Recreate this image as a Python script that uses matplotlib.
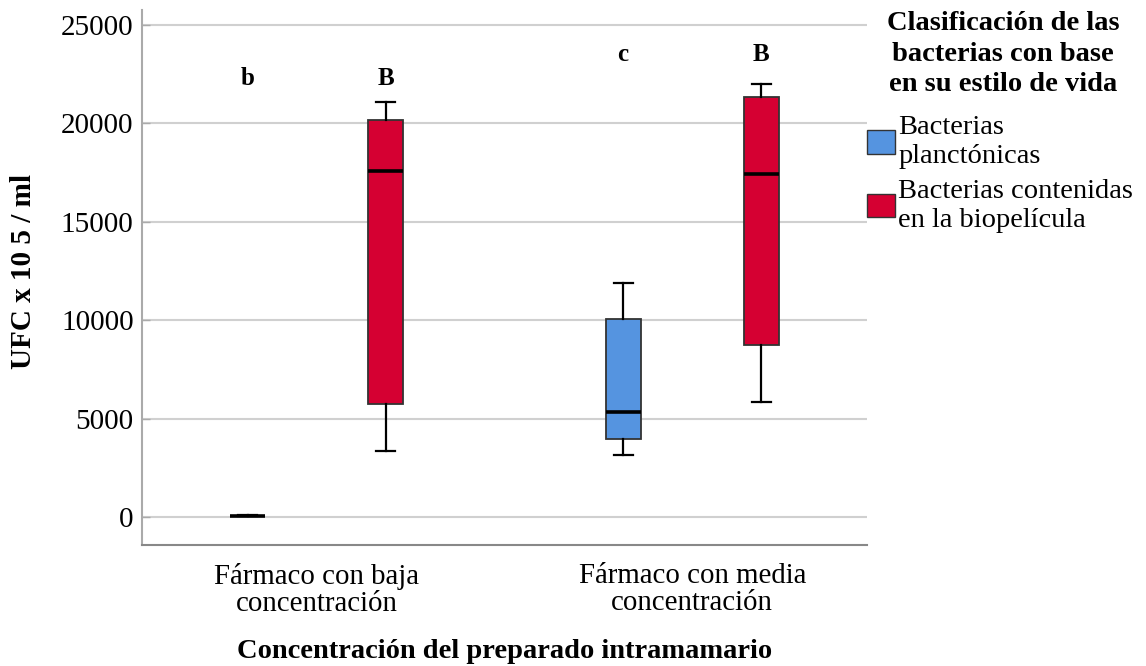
import numpy as np
from matplotlib import pyplot as plt
from matplotlib.patches import Patch

plt.rcParams['font.family'] = ['Liberation Serif', 'DejaVu Serif']

categories = ['Fármaco con baja\nconcentración', 'Fármaco con media\nconcentración']
series = ['Bacterias\nplanctónicas', 'Bacterias contenidas\nen la biopelícula']
legend_title = 'Clasificación de las\nbacterias con base\nen su estilo de vida'
colors = ['#5594e0', '#d50032']

# five-number summaries: whislo, q1, med, q3, whishi
planct = [[30, 40, 50, 60, 80],
          [3150, 3950, 5350, 10050, 11900]]
biofilm = [[3350, 5750, 17600, 20150, 21100],
           [5850, 8750, 17450, 21350, 22000]]

letters = [['b', 'B'], ['c', 'B']]
letter_y = [22300, 23500]

fig = plt.figure(figsize=(11.46, 6.66), dpi=100)
ax = fig.add_axes([0.1239, 0.1817, 0.6326, 0.8033])

offset = 0.184
width = 0.093
x = np.arange(len(categories))

for j, (data, col) in enumerate(zip([planct, biofilm], colors)):
    stats = []
    for s in data:
        stats.append(dict(whislo=s[0], q1=s[1], med=s[2], q3=s[3], whishi=s[4], fliers=[]))
    pos = x + (j * 2 - 1) * offset
    ax.bxp(stats, positions=pos, widths=width, patch_artist=True, showfliers=False,
           capwidths=width * 0.55,
           boxprops=dict(facecolor=col, edgecolor='#333333', linewidth=1.3),
           medianprops=dict(color='black', linewidth=2.6),
           whiskerprops=dict(color='black', linewidth=1.6),
           capprops=dict(color='black', linewidth=1.6), manage_ticks=False)
    for i in range(len(categories)):
        ax.text(pos[i], letter_y[i], letters[i][j], ha='center', va='center',
                fontsize=18, fontweight='bold')

ax.set_xlim(-0.465, 1.465)
ax.set_ylim(-1420, 25760)
ax.set_yticks(np.arange(0, 25001, 5000))
ax.set_xticks(x)
ax.set_xticklabels(categories, fontsize=20.8, linespacing=1.05)
ax.tick_params(axis='y', labelsize=21, direction='in', color='#aaaaaa', length=6, width=1, pad=6)
ax.tick_params(axis='x', length=0, pad=13)
ax.yaxis.grid(True, color='#d0d0d0', linewidth=1.5)
ax.set_axisbelow(True)
for s in ['top', 'right']:
    ax.spines[s].set_visible(False)
ax.spines['left'].set_color('#aaaaaa')
ax.spines['left'].set_linewidth(1.5)
ax.spines['bottom'].set_color('#888888')
ax.spines['bottom'].set_linewidth(1.5)

ax.set_ylabel('UFC x 10 5 / ml', fontsize=21, fontweight='bold')
ax.yaxis.set_label_coords(-0.145, 0.512)
ax.set_xlabel('Concentración del preparado intramamario', fontsize=20.5, fontweight='bold', labelpad=16)

fig.text(1003 / 1146, 1 - 11 / 666, legend_title, ha='center', va='top',
         fontsize=20.5, fontweight='bold', linespacing=1.3)

handles = [Patch(facecolor=c, edgecolor='#333333', linewidth=1) for c in colors]
leg = fig.legend(handles, series, loc='upper left', bbox_to_anchor=(867 / 1146, 1 - 115 / 666),
                 frameon=False, borderaxespad=0, borderpad=0, fontsize=20.5,
                 handlelength=1.0, handleheight=0.9, handletextpad=0.1, labelspacing=0.33)
for t in leg.get_texts():
    t.set_linespacing(1.22)

plt.savefig('out.png', dpi=100)
